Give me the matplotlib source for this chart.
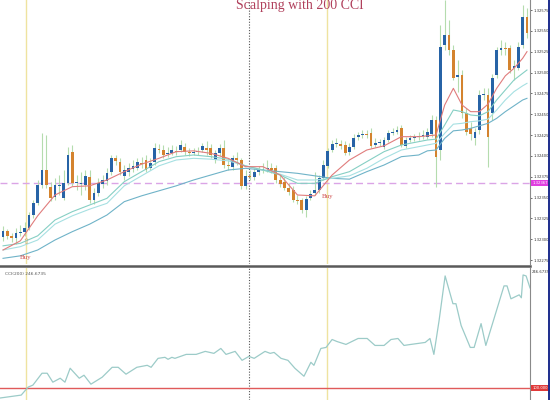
import numpy as np
import matplotlib.pyplot as plt

# 价格数据：单位是点，价格 = 1.32000 + 点 / 100000
open_pts = [303, 310, 304, 301, 307, 309, 313, 329, 343, 365,
            383, 363, 351, 364, 349, 367, 405, 367, 366, 365,
            375, 347, 355, 366, 370, 381, 397, 393, 376, 381,
            384, 385, 391, 395, 385, 393, 408, 407, 402, 403,
            406, 407, 411, 405, 403, 405, 407, 409, 409, 395,
            403, 409, 389, 387, 397, 395, 364, 376, 375, 381,
            383, 384, 385, 385, 371, 369, 361, 359, 347, 347,
            335, 349, 355, 359, 373, 388, 407, 414, 414, 413,
            405, 411, 423, 425, 426, 427, 413, 415, 411, 419,
            427, 429, 433, 412, 419, 421, 423, 424, 423, 426,
            443, 407, 533, 545, 527, 495, 497, 451, 433, 421,
            431, 473, 473, 451, 497, 527, 529, 529, 505, 505,
            533, 567]
close_pts = [310, 304, 301, 307, 309, 313, 329, 343, 365, 383,
             365, 349, 365, 365, 367, 401, 367, 369, 367, 376,
             347, 355, 367, 371, 379, 397, 394, 381, 383, 385,
             388, 393, 390, 383, 391, 409, 407, 401, 403, 407,
             405, 413, 405, 403, 405, 406, 412, 407, 401, 403,
             409, 389, 388, 397, 395, 364, 376, 375, 381, 383,
             384, 385, 383, 371, 366, 361, 357, 347, 346, 335,
             348, 354, 359, 373, 389, 406, 414, 415, 412, 403,
             411, 421, 425, 426, 425, 412, 415, 417, 419, 427,
             429, 431, 413, 419, 421, 423, 424, 425, 429, 443,
             399, 531, 545, 527, 493, 497, 451, 429, 426, 429,
             473, 474, 423, 493, 527, 529, 528, 503, 508, 531,
             567, 547]
high_pts = [316, 312, 307, 313, 317, 321, 333, 347, 371, 427,
            425, 369, 373, 377, 383, 411, 413, 377, 381, 383,
            383, 361, 373, 377, 385, 401, 401, 397, 389, 391,
            395, 397, 399, 401, 397, 415, 414, 413, 411, 413,
            412, 419, 415, 409, 409, 411, 415, 418, 414, 407,
            414, 419, 395, 401, 405, 397, 383, 383, 385, 388,
            391, 395, 391, 389, 377, 375, 367, 364, 353, 349,
            352, 359, 381, 377, 395, 409, 419, 421, 419, 418,
            415, 426, 429, 431, 431, 433, 421, 420, 423, 431,
            433, 436, 437, 423, 425, 426, 429, 431, 433, 449,
            448, 557, 587, 563, 533, 515, 503, 457, 441, 433,
            479, 481, 481, 498, 531, 539, 537, 533, 515, 537,
            581, 577]
low_pts = [298, 300, 297, 294, 304, 304, 311, 325, 341, 361,
           361, 346, 347, 353, 347, 365, 364, 359, 353, 359,
           343, 342, 352, 361, 365, 377, 389, 377, 371, 376,
           381, 383, 385, 381, 383, 389, 403, 397, 399, 401,
           401, 405, 401, 400, 401, 401, 405, 401, 397, 391,
           400, 385, 383, 383, 389, 360, 360, 371, 371, 377,
           379, 381, 379, 367, 363, 359, 353, 345, 342, 331,
           327, 347, 353, 355, 371, 385, 405, 411, 408, 401,
           401, 408, 419, 421, 421, 409, 411, 412, 408, 417,
           425, 426, 411, 409, 417, 418, 419, 420, 420, 423,
           363, 395, 527, 521, 491, 477, 445, 425, 419, 413,
           426, 467, 387, 443, 493, 521, 521, 499, 491, 503,
           529, 541]

# 均线（读图得到的值）
ma_bar = [0, 4, 8, 12, 16, 20, 24, 28, 32, 36, 40, 44, 48, 52, 56, 60, 64, 68, 72,
          76, 80, 84, 88, 92, 96, 98, 100, 102, 104, 106, 108, 110, 112, 114, 116,
          118, 120, 121]
ma_red = [287, 298, 328, 353, 363, 364, 371, 381, 390, 397, 405, 406, 403, 397, 387,
          387, 377, 353, 352, 377, 395, 407, 412, 423, 423, 424, 425, 461, 481, 461,
          453, 453, 462, 481, 496, 505, 517, 525]
ma_2 = [292, 295, 304, 323, 333, 341, 349, 369, 381, 393, 399, 401, 399, 396, 388,
        383, 377, 367, 367, 375, 381, 393, 405, 413, 417, 419, 420, 437, 455, 453,
        449, 448, 453, 467, 479, 491, 499, 503]
ma_3 = [287, 291, 299, 318, 328, 336, 343, 364, 376, 388, 395, 397, 396, 394, 388,
        383, 378, 371, 371, 373, 376, 385, 397, 407, 411, 413, 415, 427, 438, 439,
        441, 442, 444, 455, 467, 477, 484, 487]
ma_4 = [277, 280, 287, 299, 309, 318, 329, 345, 352, 358, 364, 371, 377, 383, 385,
        383, 381, 379, 376, 373, 372, 381, 389, 399, 401, 406, 407, 421, 430, 431,
        433, 436, 439, 445, 453, 460, 467, 469]

# CCI(200)
cci_t = [-0.7, 4.2, 5.8, 6.9, 9.0, 10.2, 11.5, 13.2, 14.3, 15.5, 17.6, 18.7, 20.3,
         22.9, 25.2, 26.6, 28.4, 30.9, 33.3, 34.2, 35.8, 37.4, 38.1, 39.0, 39.7,
         42.3, 44.6, 46.7, 48.7, 50.3, 51.5, 53.6, 55.2, 56.8, 58.0, 60.5, 61.7,
         62.6, 64.2, 65.8, 67.4, 69.5, 71.1, 71.8, 73.4, 74.6, 76.0, 77.1, 79.2,
         82.0, 84.1, 85.9, 88.0, 89.6, 91.2, 92.6, 94.2, 95.8, 97.5, 98.6, 99.5,
         100.7, 102.1, 103.9, 104.6, 105.8, 107.9, 108.8, 110.4, 111.5, 113.6,
         115.7, 116.4, 117.3, 119.2, 119.7, 120.1, 120.8, 121.7]
cci_v = [87.5, 91.2, 101.3, 103.8, 118.8, 118.8, 107.5, 112.5, 107.5, 125.1, 112.5,
         116.3, 105.0, 113.8, 126.3, 126.3, 117.6, 126.3, 128.8, 126.3, 137.6, 138.9,
         136.4, 138.9, 137.6, 142.6, 142.6, 146.4, 143.9, 150.1, 142.6, 146.4, 135.1,
         140.1, 137.6, 146.4, 143.9, 145.1, 137.6, 135.1, 125.1, 115.0, 132.6, 128.8,
         150.1, 151.4, 161.4, 158.9, 155.2, 162.7, 162.7, 153.9, 153.9, 161.4, 162.7,
         153.9, 155.2, 156.4, 157.7, 162.7, 142.6, 185.2, 241.7, 206.6, 206.6, 179.0,
         151.4, 151.4, 181.5, 153.9, 191.5, 229.1, 229.1, 212.8, 217.8, 214.1, 242.9,
         241.7, 226.6]

price_ticks = [1.32275, 1.32300, 1.32325, 1.32350, 1.32375, 1.32400, 1.32425,
               1.32450, 1.32475, 1.32500, 1.32525, 1.32550, 1.32575]
cur_price = 1.32367
cci_level = 100.0
cci_now = 246.6735
buy_bars = [5.3, 74.8]
sep_bar = 56.8

FS = 2.7  # 右侧小字


def to_price(pts):
    return 1.32 + np.array(pts) / 100000.0


o = to_price(open_pts)
c = to_price(close_pts)
h = to_price(high_pts)
l = to_price(low_pts)
bars = np.arange(len(c))

fig = plt.figure(figsize=(5.5, 4), dpi=100)
fig.patch.set_facecolor('white')
ax = fig.add_axes([0, 136 / 400, 530 / 550, 264 / 400])
cx = fig.add_axes([0, 0, 530 / 550, 132 / 400])

# 竖线
for a in (ax, cx):
    for b in buy_bars:
        a.axvline(b, color='#efe3a0', lw=1.0, zorder=1)
    a.axvline(sep_bar, color='#555555', lw=0.8, ls=(0, (1, 1.5)), zorder=1)

# 当前价虚线
ax.axhline(cur_price, color='#dba4e6', lw=1.0, ls=(0, (5, 3)), zorder=1)

# 蜡烛
ax.vlines(bars, l, h, color='#b5dcae', lw=0.8, zorder=2)
colors = np.where(c > o, '#2763a6', np.where(c < o, '#d4832e', '#3d6b45'))
body_h = np.maximum(np.abs(c - o), 0.000012)
ax.bar(bars, body_h, bottom=np.minimum(o, c), width=0.65, color=colors, zorder=3)

# 均线
ax.plot(ma_bar, to_price(ma_4), color='#6fb3c8', lw=0.8, zorder=4)
ax.plot(ma_bar, to_price(ma_3), color='#a6e0e2', lw=0.8, zorder=4)
ax.plot(ma_bar, to_price(ma_2), color='#86cfc4', lw=0.8, zorder=4)
ax.plot(ma_bar, to_price(ma_red), color='#e07c7c', lw=0.8, zorder=5)

# Buy 标记
ax.text(buy_bars[0], 1.322966, '\u21e7', ha='center', va='center', fontsize=6,
        color='#c4a880', zorder=6)
ax.text(buy_bars[0], 1.322786, 'Buy', ha='center', va='center', fontsize=5,
        family='Liberation Serif', color='#d05050', zorder=6)
ax.text(buy_bars[1] + 0.2, 1.323518, 'Buy', ha='center', va='center', fontsize=5,
        family='Liberation Serif', color='#d05050', zorder=6)

ax.set_xlim(-0.7, 121.7)
ax.set_ylim(1.322702, 1.32587)
ax.set_xticks([])
ax.set_yticks(price_ticks)
ax.set_yticklabels(['%.5f' % p for p in price_ticks])
ax.text(1.004, (cur_price - 1.322702) / (1.32587 - 1.322702), '%.5f' % cur_price,
        transform=ax.transAxes, ha='left', va='center', fontsize=FS, color='white',
        bbox=dict(boxstyle='square,pad=0.3', fc='#e03fe0', ec='none'), zorder=7,
        clip_on=False)

# CCI
cx.axhline(cci_level, color='#e05a5a', lw=1.0, zorder=2)
cx.plot(cci_t, cci_v, color='#9ccbc8', lw=0.9, zorder=3)
cx.set_xlim(-0.7, 121.7)
cx.set_ylim(85.0, 251.7)
cx.set_xticks([])
cx.set_yticks([])
cx.text(0.01, 0.955, 'CCI(200) %.4f' % cci_now, transform=cx.transAxes, fontsize=3.2,
        color='#555555', va='center')
cx.text(1.004, (cci_now - 85.0) / (251.7 - 85.0), '%.4f' % cci_now, transform=cx.transAxes,
        fontsize=FS, color='#333333', va='center', clip_on=False)
cx.text(1.004, (cci_level - 85.0) / (251.7 - 85.0), '%.4f' % cci_level,
        transform=cx.transAxes, fontsize=FS, color='white', va='center',
        bbox=dict(boxstyle='square,pad=0.3', fc='#e03a3a', ec='none'), clip_on=False)

for a in (ax, cx):
    for s in ('top', 'left', 'bottom'):
        a.spines[s].set_visible(False)
    a.spines['right'].set_color('#8a8a8a')
    a.spines['right'].set_linewidth(0.8)
    a.yaxis.tick_right()
    a.tick_params(axis='y', labelsize=FS, length=1.5, pad=0.8, colors='#333333', width=0.5)

# 分隔线和边框
fig.add_artist(plt.Line2D([0, 530 / 550], [1 - 265.5 / 400] * 2, color='#5a5a5a', lw=1.8))
fig.add_artist(plt.Line2D([549 / 550] * 2, [0, 1], color='#1c2c8c', lw=1.4))

fig.text(300 / 550, 1 - 9 / 400, 'Scalping with 200 CCI', ha='center', va='baseline',
         family='Liberation Serif', fontsize=10, color='#b0405c')

fig.savefig('out.png', dpi=100)
